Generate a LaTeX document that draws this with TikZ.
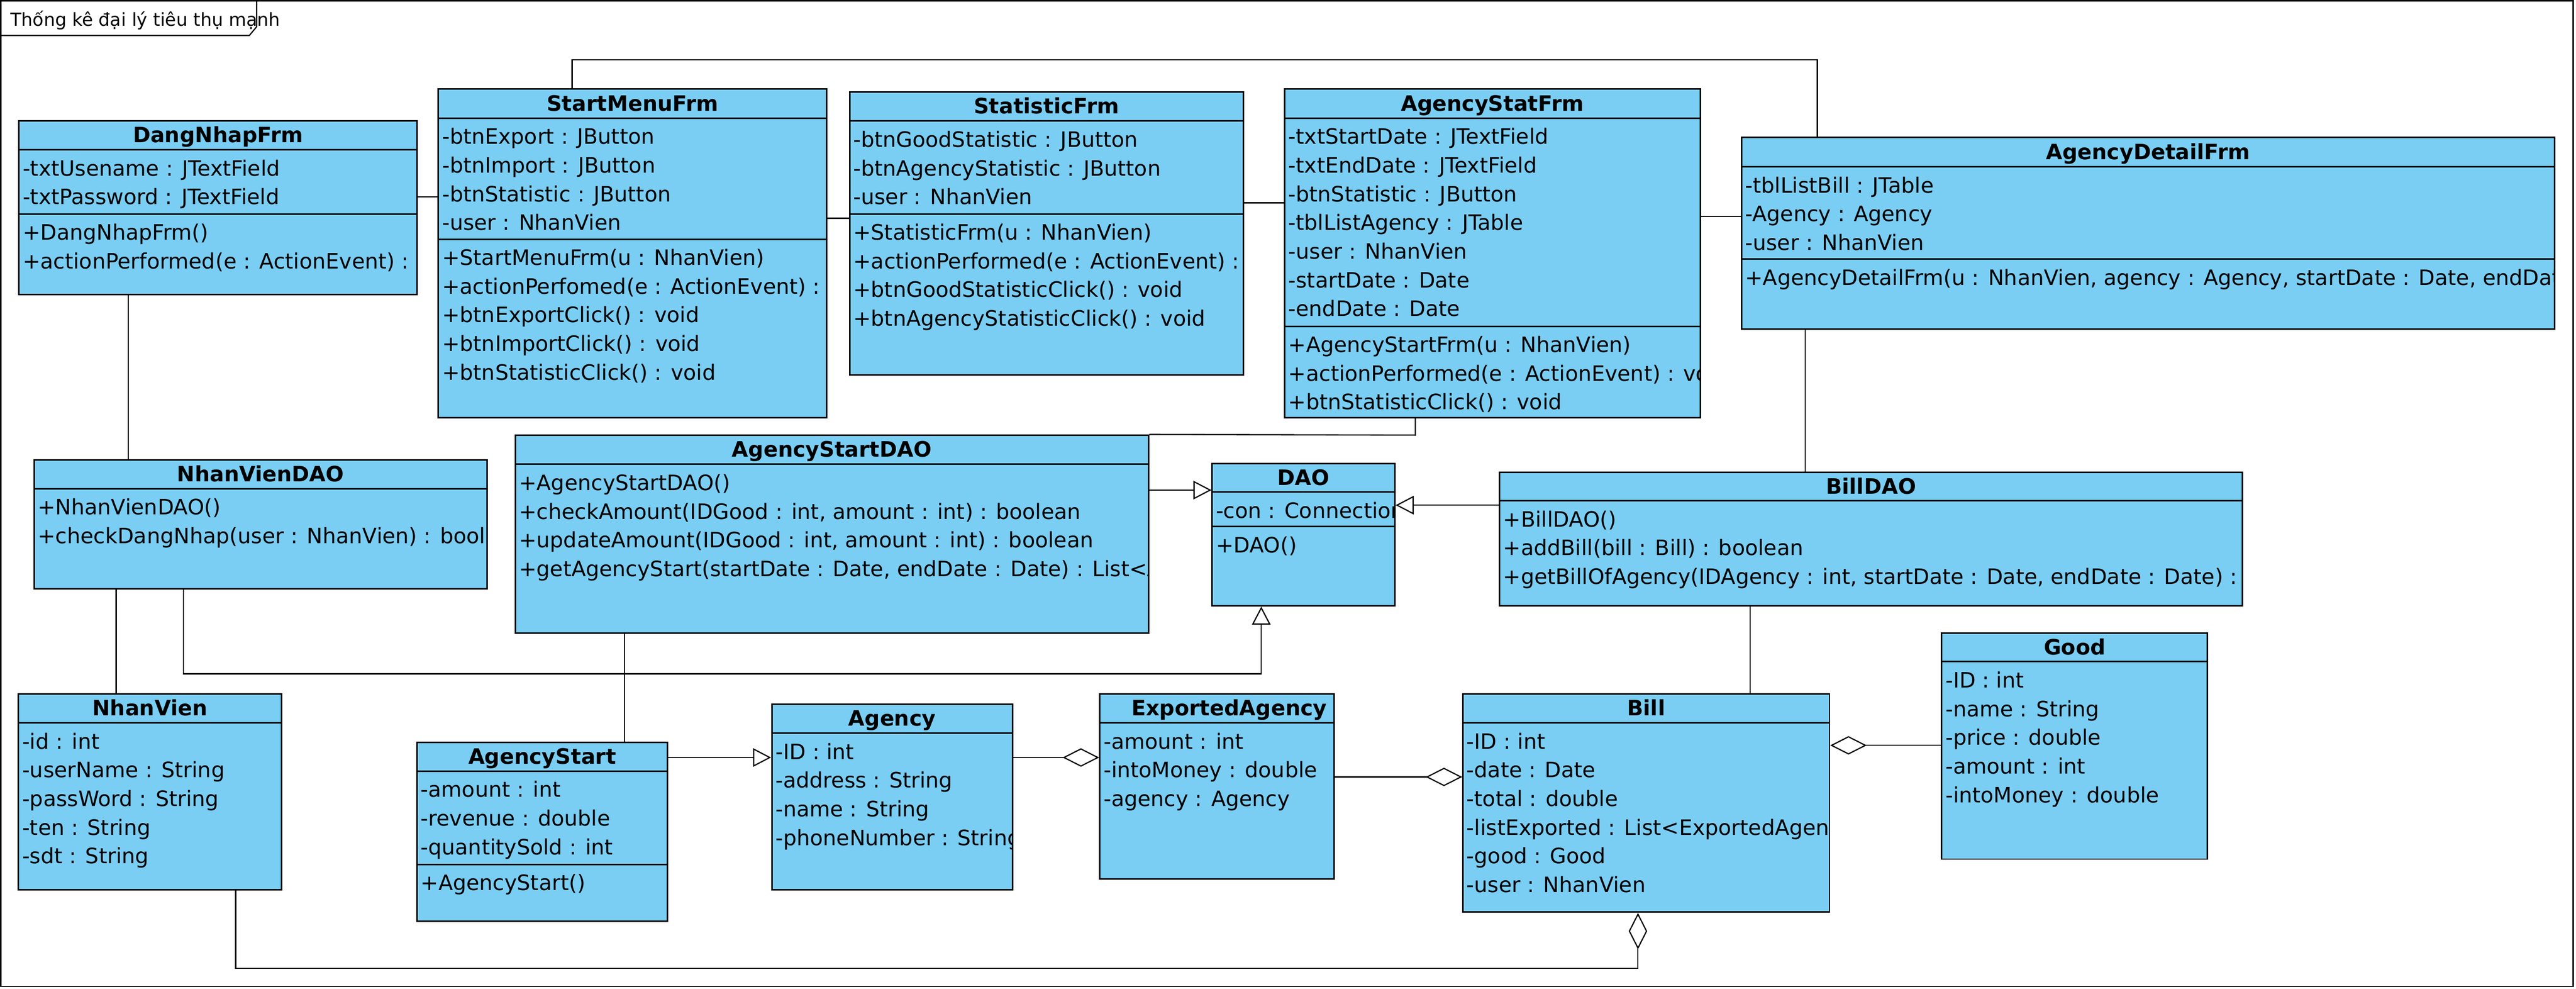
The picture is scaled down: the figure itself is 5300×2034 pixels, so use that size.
\documentclass[tikz,border=0pt]{standalone}
\usepackage{fontspec}
\setmainfont{DejaVu Sans}
\usetikzlibrary{arrows.meta,fit}
\definecolor{clsfill}{RGB}{122,206,243}
\tikzset{
 clsbox/.style={draw=black, fill=clsfill, line width=0.9pt, inner sep=0pt},
 boxline/.style={draw=black, line width=0.9pt},
 hdr/.style={anchor=base, inner sep=0pt, font=\fontsize{12.4}{14}\selectfont\bfseries},
 rowtxt/.style={anchor=base west, inner sep=0pt, font=\fontsize{12.4}{14}\selectfont},
 conn/.style={draw=black, line width=0.7pt},
 gen/.style={conn, -{Triangle[open, length=0.37cm, width=0.38cm]}},
 agg/.style={conn, -{Diamond[open, length=0.75cm, width=0.38cm]}},
 ttl/.style={anchor=base west, inner sep=0pt, font=\fontsize{10.5}{12}\selectfont},
}
\newcommand{\cls}[7]{%
 \node[clsbox, fit={(#2,#3) (#4,#5)}] (#1) {};
 \draw[boxline] (#2,#6) -- (#4,#6);
 \node[hdr] (#1-title) at ({(#2+#4)/2},{(#3+#6)/2+15}) {#7};
}
\newcommand{\rowsin}[6]{%
 \begin{scope}
 \clip (#2,#4) rectangle (#3,#5);
 \foreach \rtxt [count=\i from 0] in {#6} {
   \node[rowtxt] (#1-\i) at ({#2+7},{#4+38.5+59*\i+15}) {\rtxt};
 }
 \end{scope}
}
\begin{document}
\begin{tikzpicture}[x=0.01cm, y=-0.01cm]
\useasboundingbox (0,0) rectangle (5300,2034);
% frame and title tab
\draw[conn] (1.5,1.5) rectangle (5294,2029);
\draw[conn] (0,73) -- (513,73) -- (528,55) -- (528,0);
\node[ttl] (title) at (21,54) {Thống kê đại lý tiêu thụ mạnh};

% DangNhapFrm
\cls{DangNhapFrm}{39}{249}{858}{606}{308}{DangNhapFrm}
\draw[boxline] (39,440) -- (858,440);
\rowsin{dna}{39}{858}{308}{606}{-txtUsename : JTextField, -txtPassword : JTextField}
\rowsin{dnm}{39}{858}{440}{606}{+DangNhapFrm(), +actionPerformed(e : ActionEvent) : void}

% StartMenuFrm
\cls{StartMenuFrm}{902}{183}{1701}{859}{243}{StartMenuFrm}
\draw[boxline] (902,492) -- (1701,492);
\rowsin{sma}{902}{1701}{243}{859}{-btnExport : JButton, -btnImport : JButton, -btnStatistic : JButton, -user : NhanVien}
\rowsin{smm}{902}{1701}{492}{859}{+StartMenuFrm(u : NhanVien), +actionPerfomed(e : ActionEvent) : void, +btnExportClick() : void, +btnImportClick() : void, +btnStatisticClick() : void}

% StatisticFrm
\cls{StatisticFrm}{1748}{189}{2558}{771}{249}{StatisticFrm}
\draw[boxline] (1748,440) -- (2558,440);
\rowsin{sta}{1748}{2558}{249}{771}{-btnGoodStatistic : JButton, -btnAgencyStatistic : JButton, -user : NhanVien}
\rowsin{stm}{1748}{2558}{440}{771}{+StatisticFrm(u : NhanVien), +actionPerformed(e : ActionEvent) : void, +btnGoodStatisticClick() : void, +btnAgencyStatisticClick() : void}

% AgencyStatFrm
\cls{AgencyStatFrm}{2643}{183}{3498}{859}{243}{AgencyStatFrm}
\draw[boxline] (2643,671) -- (3498,671);
\rowsin{asa}{2643}{3498}{243}{859}{-txtStartDate : JTextField, -txtEndDate : JTextField, -btnStatistic : JButton, -tblListAgency : JTable, -user : NhanVien, -startDate : Date, -endDate : Date}
\rowsin{asm}{2643}{3498}{671}{859}{+AgencyStartFrm(u : NhanVien), +actionPerformed(e : ActionEvent) : void, +btnStatisticClick() : void}

% AgencyDetailFrm
\cls{AgencyDetailFrm}{3583}{283}{5256}{677}{343}{AgencyDetailFrm}
\draw[boxline] (3583,533) -- (5256,533);
\rowsin{ada}{3583}{5256}{343}{677}{-tblListBill : JTable, -Agency : Agency, -user : NhanVien}
\rowsin{adm}{3583}{5256}{533}{677}{{+AgencyDetailFrm(u : NhanVien, agency : Agency, startDate : Date, endDate : Date)}}

% NhanVienDAO
\cls{NhanVienDAO}{70}{946}{1002}{1211}{1005}{NhanVienDAO}
\rowsin{nvdm}{70}{1002}{1005}{1211}{+NhanVienDAO(), +checkDangNhap(user : NhanVien) : boolean}

% AgencyStartDAO
\cls{AgencyStartDAO}{1060}{895}{2363}{1302}{955}{AgencyStartDAO}
\rowsin{asdm}{1060}{2363}{955}{1302}{+AgencyStartDAO(), {+checkAmount(IDGood : int, amount : int) : boolean}, {+updateAmount(IDGood : int, amount : int) : boolean}, {+getAgencyStart(startDate : Date, endDate : Date) : List<AgencyStart>}}

% DAO
\cls{DAO}{2494}{953}{2870}{1246}{1012}{DAO}
\draw[boxline] (2494,1083) -- (2870,1083);
\rowsin{daoa}{2494}{2870}{1012}{1246}{-con : Connection}
\rowsin{daom}{2494}{2870}{1083}{1246}{+DAO()}

% BillDAO
\cls{BillDAO}{3085}{971}{4614}{1246}{1030}{BillDAO}
\rowsin{bdm}{3085}{4614}{1030}{1246}{+BillDAO(), +addBill(bill : Bill) : boolean, {+getBillOfAgency(IDAgency : int, startDate : Date, endDate : Date) : List<Bill>}}

% NhanVien
\cls{NhanVien}{38}{1427}{579}{1830}{1487}{NhanVien}
\rowsin{nva}{38}{579}{1487}{1830}{-id : int, -userName : String, -passWord : String, -ten : String, -sdt : String}

% AgencyStart
\cls{AgencyStart}{858}{1527}{1373}{1895}{1586}{AgencyStart}
\draw[boxline] (858,1778) -- (1373,1778);
\rowsin{asta}{858}{1373}{1586}{1895}{-amount : int, -revenue : double, -quantitySold : int}
\rowsin{astm}{858}{1373}{1778}{1895}{+AgencyStart()}

% Agency
\cls{Agency}{1588}{1448}{2083}{1830}{1508}{Agency}
\rowsin{aga}{1588}{2083}{1508}{1830}{-ID : int, -address : String, -name : String, -phoneNumber : String}

% ExportedAgency
\node[clsbox, fit={(2263,1427) (2745,1808)}] (ExportedAgency) {};
\draw[boxline] (2263,1487) -- (2745,1487);
\node[hdr] (ExportedAgency-title) at (2529,1472) {ExportedAgency};
\rowsin{exa}{2263}{2745}{1487}{1808}{-amount : int, -intoMoney : double, -agency : Agency}

% Bill
\cls{Bill}{3010}{1427}{3764}{1876}{1487}{Bill}
\rowsin{bla}{3010}{3764}{1487}{1876}{-ID : int, -date : Date, -total : double, -listExported : List<ExportedAgency>, -good : Good, -user : NhanVien}

% Good
\cls{Good}{3995}{1302}{4542}{1767}{1361}{Good}
\rowsin{gda}{3995}{4542}{1361}{1767}{-ID : int, -name : String, -price : double, -amount : int, -intoMoney : double}

% connectors
\draw[conn] (DangNhapFrm.east |- 0,405) -- (StartMenuFrm.west |- 0,405);
\draw[conn] (StartMenuFrm.east |- 0,449) -- (StatisticFrm.west |- 0,449);
\draw[conn] (StatisticFrm.east |- 0,417) -- (AgencyStatFrm.west |- 0,417);
\draw[conn] (AgencyStatFrm.east |- 0,445) -- (AgencyDetailFrm.west |- 0,445);
\coordinate (b1) at (1177,123);
\coordinate (b2) at (3739,123);
\draw[conn] (StartMenuFrm.north -| b1) -- (b1) -- (b2) -- (AgencyDetailFrm.north -| b2);
\coordinate (b3) at (2912,895);
\draw[conn] (AgencyStatFrm.south -| b3) -- (b3) -- (AgencyStartDAO.north east);
\draw[conn] (DangNhapFrm.south -| 264,0) -- (NhanVienDAO.north -| 264,0);
\draw[conn] (AgencyDetailFrm.south -| 3714,0) -- (BillDAO.north -| 3714,0);
\draw[conn] (NhanVienDAO.south -| 239,0) -- (NhanVien.north -| 239,0);
\coordinate (b4) at (377,1386);
\coordinate (b5) at (2595,1386);
\draw[gen] (NhanVienDAO.south -| b4) -- (b4) -- (b5) -- (DAO.south -| b5);
\draw[gen] (AgencyStartDAO.east |- 0,1008) -- (DAO.west |- 0,1008);
\draw[gen] (BillDAO.west |- 0,1039) -- (DAO.east |- 0,1039);
\draw[conn] (AgencyStartDAO.south -| 1285,0) -- (AgencyStart.north -| 1285,0);
\draw[gen] (AgencyStart.east |- 0,1558) -- (Agency.west |- 0,1558);
\draw[agg] (Agency.east |- 0,1558) -- (ExportedAgency.west |- 0,1558);
\draw[agg] (ExportedAgency.east |- 0,1598) -- (Bill.west |- 0,1598);
\draw[agg] (Good.west |- 0,1533) -- (Bill.east |- 0,1533);
\coordinate (b6) at (485,1992);
\coordinate (b7) at (3370,1992);
\draw[agg] (NhanVien.south -| b6) -- (b6) -- (b7) -- (Bill.south -| b7);
\draw[conn] (BillDAO.south -| 3601,0) -- (Bill.north -| 3601,0);
\end{tikzpicture}
\end{document}
